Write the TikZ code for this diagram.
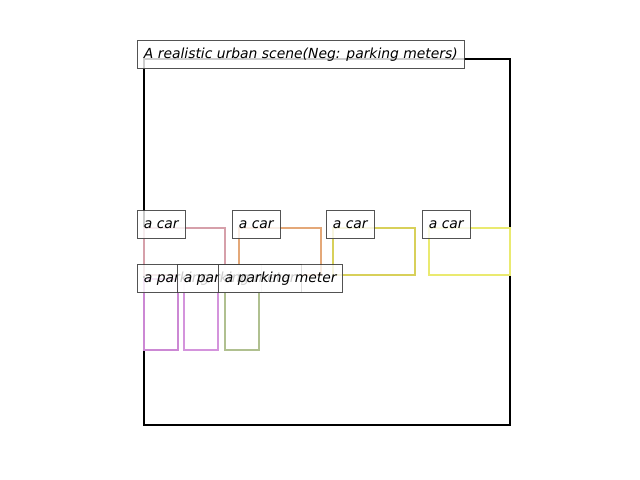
\documentclass[tikz,border=0pt]{standalone}
\usepackage{fontspec}
\setmainfont{DejaVu Sans}
\begin{document}
\begin{tikzpicture}[x=0.72pt,y=-0.72pt,
  lbl/.style={draw=black!75,fill=white,fill opacity=0.8,text opacity=1,
    draw opacity=0.9,line width=0.72pt,anchor=north west,inner xsep=4.6pt,
    inner ysep=0pt,minimum height=20.16pt,font=\fontsize{10}{12}\selectfont\itshape},
  bb/.style={line width=1.5pt}]
\definecolor{cA}{RGB}{214,160,170}
\definecolor{cB}{RGB}{228,168,120}
\definecolor{cC}{RGB}{216,208,90}
\definecolor{cD}{RGB}{234,234,112}
\definecolor{pA}{RGB}{204,136,212}
\definecolor{pB}{RGB}{212,148,220}
\definecolor{pC}{RGB}{176,192,144}
\useasboundingbox (0,0) rectangle (640,480);
\draw[line width=1.5pt,black] (144,59) rectangle (510,425);
\draw[bb,cA] (144,228) rectangle (225,275);
\draw[bb,cB] (239,228) rectangle (321,275);
\draw[bb,cC] (333,228) rectangle (415,275);
\draw[bb,cD] (429,228) rectangle (510,275);
\draw[bb,pA] (144,279) rectangle (178,350);
\draw[bb,pB] (184,279) rectangle (218,350);
\draw[bb,pC] (225,279) rectangle (259,350);
\node[lbl] (t) at (137,40) {A realistic urban scene(Neg: parking meters)};
\node[lbl] (c1) at (137,210) {a car};
\node[lbl] (c2) at (232,210) {a car};
\node[lbl] (c3) at (326,210) {a car};
\node[lbl] (c4) at (422,210) {a car};
\node[lbl] (p1) at (137,264) {a parking meter};
\node[lbl] (p2) at (177,264) {a parking meter};
\node[lbl] (p3) at (218,264) {a parking meter};
\end{tikzpicture}
\end{document}
